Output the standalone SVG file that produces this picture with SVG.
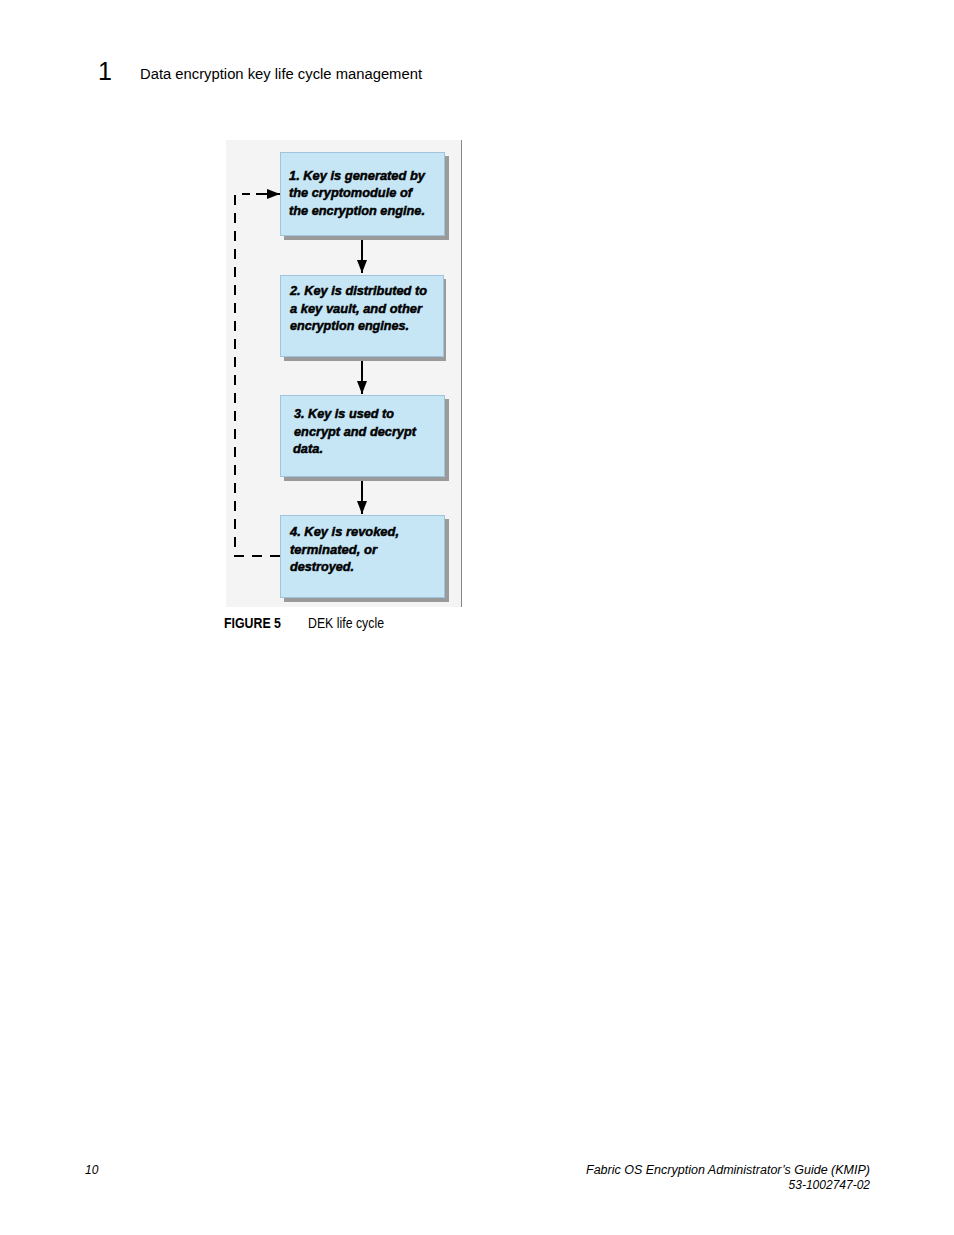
<svg xmlns="http://www.w3.org/2000/svg" width="954" height="1235" viewBox="0 0 954 1235">
<style>
.page{font-family:"Liberation Sans",Arial,sans-serif;fill:#000}
.box{fill:#c6e6f6;stroke:#9fc4dc;stroke-width:1}
.shadow{fill:#9a9a9a}
.lbl{font-family:"Liberation Sans",Arial,sans-serif;font-weight:bold;font-style:italic;font-size:12px;fill:#000;stroke:#000;stroke-width:0.45}
.cap{font-family:"Liberation Sans Narrow","Liberation Sans",Arial,sans-serif;font-size:14px;fill:#000}
.arr{stroke:#000;stroke-width:2;fill:none;marker-end:url(#ah)}
.dash{stroke:#000;stroke-width:2;fill:none;stroke-dasharray:10 8}
</style>
<defs>
<marker id="ah" viewBox="0 0 13 10" refX="13" refY="5" markerWidth="6.5" markerHeight="5" markerUnits="strokeWidth" orient="auto">
<path d="M0,0 L13,5 L0,10 z" fill="#000"/>
</marker>
</defs>
<rect width="954" height="1235" fill="#fff"/>
<text class="page" x="98" y="80" font-size="25">1</text>
<text class="page" x="140" y="79" font-size="14" textLength="282" lengthAdjust="spacingAndGlyphs">Data encryption key life cycle management</text>

<rect x="226" y="140" width="235" height="467" fill="#f4f4f4"/>
<line x1="461.5" y1="140" x2="461.5" y2="607" stroke="#888" stroke-width="1"/>

<g id="connectors">
<path class="dash" d="M280,556 H235 V194 H250"/>
<line class="arr" x1="256" y1="194" x2="280" y2="194"/>
<line class="arr" x1="362" y1="237" x2="362" y2="273"/>
<line class="arr" x1="362" y1="358" x2="362" y2="394"/>
<line class="arr" x1="362" y1="478" x2="362" y2="514"/>
</g>

<g id="node1">
<rect class="shadow" x="284" y="156" width="165" height="84"/>
<rect class="box" x="280.5" y="152.5" width="164" height="83"/>
<text class="lbl" x="289" y="180" textLength="136" lengthAdjust="spacingAndGlyphs">1. Key is generated by</text>
<text class="lbl" x="289" y="197" textLength="123" lengthAdjust="spacingAndGlyphs">the cryptomodule of</text>
<text class="lbl" x="289" y="215" textLength="136" lengthAdjust="spacingAndGlyphs">the encryption engine.</text>
</g>
<g id="node2">
<rect class="shadow" x="284" y="279" width="162" height="82"/>
<rect class="box" x="280.5" y="275.5" width="163" height="81"/>
<text class="lbl" x="290" y="295" textLength="137" lengthAdjust="spacingAndGlyphs">2. Key is distributed to</text>
<text class="lbl" x="290" y="313" textLength="132" lengthAdjust="spacingAndGlyphs">a key vault, and other</text>
<text class="lbl" x="290" y="330" textLength="119" lengthAdjust="spacingAndGlyphs">encryption engines.</text>
</g>
<g id="node3">
<rect class="shadow" x="284" y="399" width="165" height="82"/>
<rect class="box" x="280.5" y="395.5" width="164" height="81"/>
<text class="lbl" x="294" y="418" textLength="100" lengthAdjust="spacingAndGlyphs">3. Key is used to</text>
<text class="lbl" x="294" y="436" textLength="122" lengthAdjust="spacingAndGlyphs">encrypt and decrypt</text>
<text class="lbl" x="293" y="453" textLength="30" lengthAdjust="spacingAndGlyphs">data.</text>
</g>
<g id="node4">
<rect class="shadow" x="284" y="519" width="165" height="83"/>
<rect class="box" x="280.5" y="515.5" width="164" height="82"/>
<text class="lbl" x="290" y="536" textLength="109" lengthAdjust="spacingAndGlyphs">4. Key is revoked,</text>
<text class="lbl" x="290" y="554" textLength="87" lengthAdjust="spacingAndGlyphs">terminated, or</text>
<text class="lbl" x="290" y="571" textLength="64" lengthAdjust="spacingAndGlyphs">destroyed.</text>
</g>

<text class="cap" x="224" y="628" font-weight="bold" textLength="57" lengthAdjust="spacingAndGlyphs">FIGURE 5</text>
<text class="cap" x="308" y="628" textLength="76" lengthAdjust="spacingAndGlyphs">DEK life cycle</text>

<text class="page" x="85" y="1174" font-size="12" font-style="italic">10</text>
<text class="page" x="870" y="1174" font-size="12" font-style="italic" text-anchor="end" textLength="284" lengthAdjust="spacingAndGlyphs">Fabric OS Encryption Administrator’s Guide (KMIP)</text>
<text class="page" x="870" y="1189" font-size="12" font-style="italic" text-anchor="end">53-1002747-02</text>
</svg>
